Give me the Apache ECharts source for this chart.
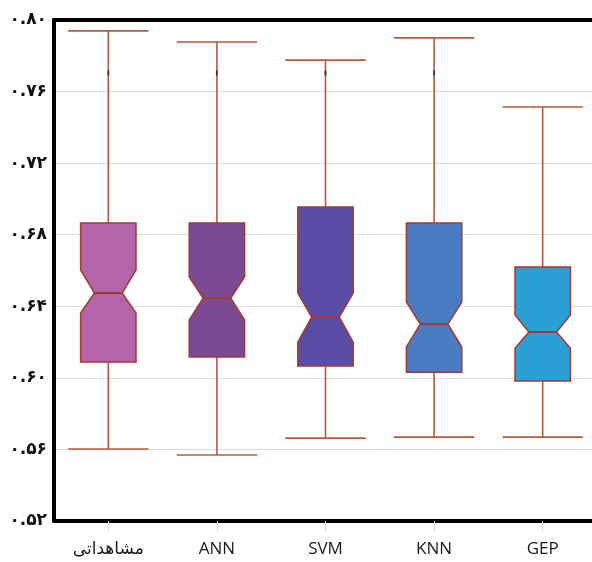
<!DOCTYPE html>
<html>
<head>
<meta charset="utf-8">
<script src="https://cdn.jsdelivr.net/npm/echarts@6/dist/echarts.min.js"></script>
<style>
  html, body { margin: 0; padding: 0; background: #ffffff; }
  #chart { width: 592px; height: 562px; }
</style>
</head>
<body>
<div id="chart"></div>
<script>
// Categories along the x axis
const categories = ['مشاهداتی', 'ANN', 'SVM', 'KNN', 'GEP'];

// Five-number summaries and notch limits for each model
const lowerWhisker = [0.5602, 0.5569, 0.5663, 0.5669, 0.5669];
const q1Values     = [0.6088, 0.6116, 0.6066, 0.6032, 0.5982];
const notchLow     = [0.6362, 0.6323, 0.6200, 0.6172, 0.6166];
const medianValues = [0.6474, 0.6446, 0.6340, 0.6300, 0.6256];
const notchHigh    = [0.6603, 0.6563, 0.6474, 0.6424, 0.6351];
const q3Values     = [0.6865, 0.6865, 0.6955, 0.6865, 0.6619];
const upperWhisker = [0.7939, 0.7877, 0.7776, 0.7900, 0.7514];

// Small dark marks sitting on the upper whiskers
const markCategories = [0, 1, 2, 3];
const markValues     = [0.7704, 0.7704, 0.7704, 0.7704];

// Y axis tick labels (Persian digits), bottom to top
const yTickValues = [0.52, 0.56, 0.60, 0.64, 0.68, 0.72, 0.76, 0.80];
const yTickLabels = ['۰.۵۲', '۰.۵۶', '۰.۶۰', '۰.۶۴', '۰.۶۸', '۰.۷۲', '۰.۷۶', '۰.۸۰'];

// Box fill colours per category
const boxColors = ['#B266A8', '#7B4A93', '#5A4CA6', '#4A7CC4', '#2AA0D4'];

const boxData = categories.map((c, i) => [
  i, lowerWhisker[i], q1Values[i], notchLow[i], medianValues[i],
  notchHigh[i], q3Values[i], upperWhisker[i]
]);

const outlineColor = '#A23A30';
const whiskerColor = '#B8583A';

function renderNotchedBox(params, api) {
  const idx = api.value(0);
  const band = api.size([1, 0])[0];
  const halfBox = band * 0.255;
  const halfNotch = halfBox * 0.5;
  const halfCap = band * 0.37;

  const x = api.coord([idx, 0])[0];
  const yMin = api.coord([idx, api.value(1)])[1];
  const yQ1 = api.coord([idx, api.value(2)])[1];
  const yNLo = api.coord([idx, api.value(3)])[1];
  const yMed = api.coord([idx, api.value(4)])[1];
  const yNHi = api.coord([idx, api.value(5)])[1];
  const yQ3 = api.coord([idx, api.value(6)])[1];
  const yMax = api.coord([idx, api.value(7)])[1];

  const L = x - halfBox, R = x + halfBox;
  const lineStyle = { stroke: whiskerColor, lineWidth: 1.6 };

  return {
    type: 'group',
    children: [
      { type: 'line', shape: { x1: x, y1: yQ3, x2: x, y2: yMax }, style: lineStyle },
      { type: 'line', shape: { x1: x - halfCap, y1: yMax, x2: x + halfCap, y2: yMax }, style: lineStyle },
      { type: 'line', shape: { x1: x, y1: yQ1, x2: x, y2: yMin }, style: lineStyle },
      { type: 'line', shape: { x1: x - halfCap, y1: yMin, x2: x + halfCap, y2: yMin }, style: lineStyle },
      {
        type: 'polygon',
        shape: {
          points: [
            [L, yQ3], [R, yQ3], [R, yNHi], [x + halfNotch, yMed], [R, yNLo],
            [R, yQ1], [L, yQ1], [L, yNLo], [x - halfNotch, yMed], [L, yNHi]
          ]
        },
        style: { fill: boxColors[idx], stroke: outlineColor, lineWidth: 1.5 }
      },
      {
        type: 'line',
        shape: { x1: x - halfNotch, y1: yMed, x2: x + halfNotch, y2: yMed },
        style: { stroke: outlineColor, lineWidth: 2 }
      }
    ]
  };
}

const chart = echarts.init(document.getElementById('chart'), null, { renderer: 'canvas' });

const frameLine = { show: true, lineStyle: { color: '#000000', width: 4 } };

chart.setOption({
  backgroundColor: '#ffffff',
  animation: false,
  grid: {
    left: 54, top: 20, right: -5, bottom: 41,
    outerBoundsMode: 'none',
    containLabel: false,
    show: false
  },
  xAxis: [
    {
      type: 'category',
      data: categories,
      boundaryGap: true,
      position: 'bottom',
      axisLine: frameLine,
      axisTick: { show: true, alignWithLabel: true, length: 10, lineStyle: { color: '#d8d8d8', width: 1 } },
      axisLabel: {
        color: '#1a1a1a', fontSize: 17, margin: 20,
        fontFamily: '"Open Sans", "DejaVu Sans", sans-serif'
      },
      splitLine: { show: false }
    },
    {
      type: 'category',
      data: categories,
      boundaryGap: true,
      position: 'top',
      axisLine: frameLine,
      axisTick: { show: false },
      axisLabel: { show: false },
      splitLine: { show: false }
    }
  ],
  yAxis: {
    type: 'value',
    min: 0.52, max: 0.80, interval: 0.04,
    axisLine: frameLine,
    axisTick: { show: false },
    axisLabel: {
      color: '#111111', fontSize: 17, fontWeight: 'bold', margin: 7,
      fontFamily: '"DejaVu Sans", sans-serif',
      formatter: function (v) {
        const k = yTickValues.findIndex(t => Math.abs(t - v) < 1e-6);
        return k >= 0 ? yTickLabels[k] : '';
      }
    },
    splitLine: { show: true, lineStyle: { color: '#dcdcdc', width: 1 } }
  },
  series: [
    {
      type: 'custom',
      renderItem: renderNotchedBox,
      encode: { x: 0, y: [1, 2, 3, 4, 5, 6, 7] },
      data: boxData,
      z: 2
    },
    {
      type: 'scatter',
      symbol: 'rect',
      symbolSize: [2, 5],
      itemStyle: { color: '#2a2a2a' },
      data: markCategories.map((c, i) => [c, markValues[i]]),
      z: 3
    }
  ]
});
</script>
</body>
</html>
